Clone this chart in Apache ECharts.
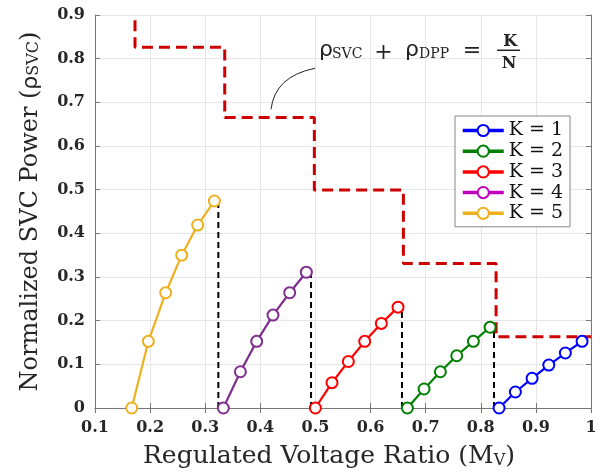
<!DOCTYPE html>
<html>
<head>
<meta charset="utf-8">
<script src="https://cdn.jsdelivr.net/npm/echarts@6/dist/echarts.min.js"></script>
<style>
  html, body { margin: 0; padding: 0; background: #fff; }
  #main { width: 610px; height: 476px; }
</style>
</head>
<body>
<div id="main"></div>
<script>
// values
const k1X = [0.8332, 0.8628, 0.8931, 0.9234, 0.9535, 0.9838];
const k1Y = [0, 0.0366, 0.068, 0.0984, 0.1259, 0.1526];
const k2X = [0.6668, 0.6971, 0.7267, 0.7564, 0.7866, 0.8169];
const k2Y = [0, 0.0435, 0.083, 0.1197, 0.1526, 0.185];
const k3X = [0.4999, 0.530, 0.5597, 0.5894, 0.6196, 0.6499];
const k3Y = [0, 0.058, 0.1065, 0.1526, 0.1937, 0.231];
const k4X = [0.3329, 0.3638, 0.3934, 0.423, 0.4533, 0.4835];
const k4Y = [0, 0.083, 0.1526, 0.2128, 0.264, 0.311];
const k5X = [0.1666, 0.1968, 0.2283, 0.2573, 0.2863, 0.3166];
const k5Y = [0, 0.1526, 0.264, 0.350, 0.419, 0.474];

// red dashed limit (rho_svc + rho_dpp = K/N)
const stepX = [0.1726, 0.1726, 0.3354, 0.3354, 0.498, 0.498, 0.6596, 0.6596, 0.8278, 0.8278, 1.0];
const stepY = [0.888, 0.826, 0.826, 0.665, 0.665, 0.499, 0.499, 0.331, 0.331, 0.163, 0.163];

// black dashed drops
const dropX = [0.3238, 0.492, 0.657, 0.824];
const dropY = [0.474, 0.311, 0.231, 0.185];

const names = ['K = 1', 'K = 2', 'K = 3', 'K = 4', 'K = 5'];
const colors = ['#0000ff', '#008000', '#ff0000', '#7e2f8e', '#edb120'];
const legendColors = ['#0000ff', '#008000', '#ff0000', '#bf00bf', '#edb120'];

const xTicks = { min: 0.1, max: 1, interval: 0.1 };
const yTicks = { min: 0, max: 0.9, interval: 0.1 };

function zip(xs, ys) {
  return xs.map((x, i) => [x, ys[i]]);
}

const curves = [zip(k1X, k1Y), zip(k2X, k2Y), zip(k3X, k3Y), zip(k4X, k4Y), zip(k5X, k5Y)];

const serif = 'DejaVu Serif';
const axisColor = '#777';

function loadChart() {
  var chartDom = document.getElementById('main');
  var myChart = echarts.init(chartDom);

  let series = [];

  dropX.forEach((x, i) => {
    series.push({
      type: 'line',
      data: [[x, 0], [x, dropY[i]]],
      symbol: 'none',
      silent: true,
      lineStyle: { color: '#000', width: 2, type: [6, 4] },
      z: 2
    });
  });

  series.push({
    type: 'line',
    data: zip(stepX, stepY),
    symbol: 'none',
    silent: true,
    lineStyle: { color: '#cc0000', width: 3, type: [11, 6] },
    z: 2
  });

  curves.forEach((data, i) => {
    series.push({
      name: names[i],
      type: 'line',
      data: data,
      symbol: 'emptyCircle',
      symbolSize: 11,
      color: colors[i],
      lineStyle: { color: colors[i], width: 2.2 },
      itemStyle: { color: colors[i], borderColor: colors[i], borderWidth: 2.2 },
      z: 3
    });
  });

  let option = {
    animation: false,
    backgroundColor: '#fff',
    grid: { left: 95, right: 19, top: 15, bottom: 68 },
    legend: {
      orient: 'vertical',
      left: 455,
      top: 116,
      padding: [5, 7, 4, 6],
      itemWidth: 41,
      itemHeight: 14,
      itemGap: 1.7,
      borderColor: '#888',
      borderWidth: 1,
      backgroundColor: '#fff',
      textStyle: { fontFamily: serif, fontSize: 19, color: '#111' },
      data: names.map((n, i) => ({
        name: n,
        itemStyle: { color: legendColors[i], borderColor: legendColors[i], borderWidth: 2.5 },
        lineStyle: { color: legendColors[i], width: 3.5, type: 'solid' }
      }))
    },
    xAxis: [
      {
        type: 'value',
        min: xTicks.min, max: xTicks.max, interval: xTicks.interval,
        name: 'Regulated Voltage Ratio (M{s|V})',
        nameLocation: 'middle',
        nameGap: 36,
        nameTextStyle: {
          fontFamily: serif, fontSize: 25, color: '#262626', padding: [0, 28, 0, 0],
          rich: { s: { fontFamily: serif, fontSize: 16, color: '#262626', padding: [8, 0, 0, 0] } }
        },
        axisLine: { show: true, lineStyle: { color: axisColor, width: 1 } },
        axisTick: { show: true, inside: true, length: 5, lineStyle: { color: axisColor } },
        axisLabel: { fontFamily: serif, fontWeight: 'bold', fontSize: 16, color: '#262626', margin: 12 },
        splitLine: { show: true, lineStyle: { color: '#e6e6e6', width: 1 } }
      },
      {
        type: 'value', position: 'top',
        min: xTicks.min, max: xTicks.max, interval: xTicks.interval,
        axisLine: { show: true, lineStyle: { color: axisColor, width: 1 } },
        axisTick: { show: true, inside: true, length: 5, lineStyle: { color: axisColor } },
        axisLabel: { show: false },
        splitLine: { show: false }
      }
    ],
    yAxis: [
      {
        type: 'value',
        min: yTicks.min, max: yTicks.max, interval: yTicks.interval,
        name: 'Normalized SVC Power ({r|ρ}{s|SVC})',
        nameLocation: 'middle',
        nameGap: 52,
        nameTextStyle: {
          fontFamily: serif, fontSize: 24, color: '#262626',
          rich: {
            r: { fontFamily: 'DejaVu Sans', fontSize: 22, color: '#262626' },
            s: { fontFamily: serif, fontSize: 16, color: '#262626', padding: [6, 0, 0, 0] }
          }
        },
        axisLine: { show: true, lineStyle: { color: axisColor, width: 1 } },
        axisTick: { show: true, inside: true, length: 5, lineStyle: { color: axisColor } },
        axisLabel: { fontFamily: serif, fontWeight: 'bold', fontSize: 16, color: '#262626', margin: 10 },
        splitLine: { show: true, lineStyle: { color: '#e6e6e6', width: 1 } }
      },
      {
        type: 'value', position: 'right',
        min: yTicks.min, max: yTicks.max, interval: yTicks.interval,
        axisLine: { show: true, lineStyle: { color: axisColor, width: 1 } },
        axisTick: { show: true, inside: true, length: 5, lineStyle: { color: axisColor } },
        axisLabel: { show: false },
        splitLine: { show: false }
      }
    ],
    series: series
  };

  myChart.setOption(option);

  // annotation, placed in data coordinates
  const px = (x, y) => myChart.convertToPixel({ xAxisIndex: 0, yAxisIndex: 0 }, [x, y]);
  const txt = (x, y, text, font, align) => {
    let p = px(x, y);
    return {
      type: 'text', x: p[0], y: p[1], z: 10,
      style: { text: text, font: font, fill: '#222', align: align || 'left', verticalAlign: 'middle' }
    };
  };
  const a = px(0.4993, 0.778), c = px(0.4267, 0.7597), b = px(0.4194, 0.6842);
  const bar1 = px(0.8296, 0.8192), bar2 = px(0.8713, 0.8192);

  myChart.setOption({
    graphic: [
      {
        type: 'bezierCurve', z: 10,
        shape: { x1: a[0], y1: a[1], cpx1: c[0], cpy1: c[1], x2: b[0], y2: b[1] },
        style: { stroke: '#222', lineWidth: 1, fill: null }
      },
      txt(0.5065, 0.8192, 'ρ', '22px "DejaVu Sans"'),
      txt(0.5301, 0.8101, 'SVC', '14px "DejaVu Serif"'),
      txt(0.6236, 0.8124, '+', '22px "DejaVu Serif"', 'center'),
      txt(0.6626, 0.8192, 'ρ', '22px "DejaVu Sans"'),
      txt(0.6880, 0.8101, 'DPP', '14px "DejaVu Serif"'),
      txt(0.7842, 0.8169, '=', '22px "DejaVu Serif"', 'center'),
      txt(0.8532, 0.8391, 'K', 'bold 16px "DejaVu Serif"', 'center'),
      txt(0.8514, 0.7888, 'N', 'bold 16px "DejaVu Serif"', 'center'),
      {
        type: 'line', z: 10,
        shape: { x1: bar1[0], y1: bar1[1], x2: bar2[0], y2: bar2[1] },
        style: { stroke: '#222', lineWidth: 1.5 }
      }
    ]
  });
}

document.addEventListener('DOMContentLoaded', () => {
  loadChart();
});
</script>
</body>
</html>
